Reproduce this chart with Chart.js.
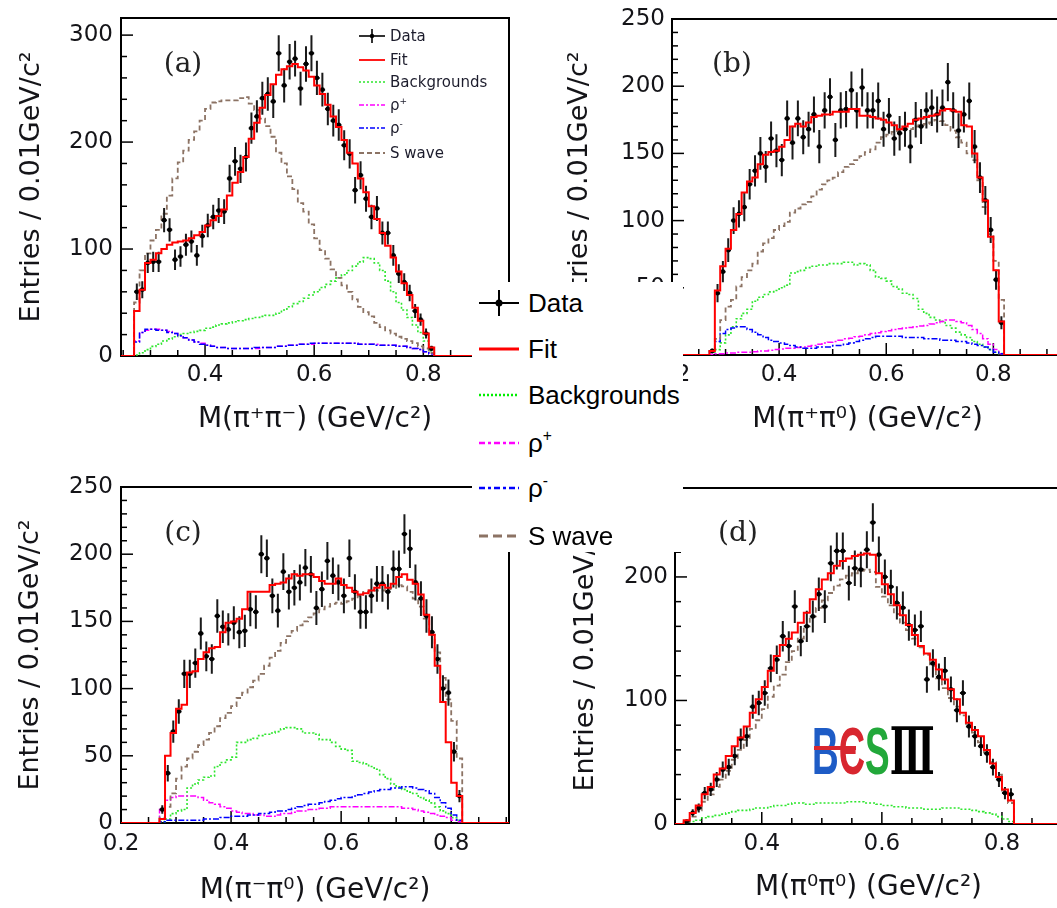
<!DOCTYPE html>
<html><head><meta charset="utf-8"><title>Invariant mass projections</title>
<script src="https://cdn.jsdelivr.net/npm/chart.js@4.4.1/dist/chart.umd.min.js"></script>
<style>
html,body{margin:0;padding:0;background:#fff;}
body{width:1057px;height:908px;overflow:hidden;position:relative;}
canvas{position:absolute;z-index:1;}
.plab{position:absolute;z-index:3;font-family:"DejaVu Serif",serif;font-size:28px;color:#222;transform:translate(-50%,-50%);line-height:1;}
#bigLegend{position:absolute;left:472px;top:282px;width:211px;height:270px;background:#fff;z-index:6;}
.lrow{position:absolute;left:0;width:211px;height:40px;}
.lrow svg{position:absolute;left:7px;top:5px;}
.lrow span{position:absolute;left:56px;top:0;line-height:40px;font-family:"Liberation Sans",Arial,sans-serif;font-size:26px;color:#000;white-space:nowrap;}
.lrow sup,.srow sup{font-size:60%;vertical-align:0.7em;line-height:0;}
.srow{position:absolute;left:357px;width:160px;height:20px;z-index:3;}
.srow svg{position:absolute;left:0;top:0;}
.srow span{position:absolute;left:33px;top:0;line-height:20px;font-family:"DejaVu Sans",sans-serif;font-size:15px;color:#1c1c2c;white-space:nowrap;}
#logo{position:absolute;left:812px;top:718px;height:66px;z-index:3;transform:scaleX(0.56);transform-origin:0 0;white-space:nowrap;font-family:"Liberation Sans",sans-serif;font-weight:bold;font-size:66px;line-height:66px;}
</style></head>
<body>
<canvas id="cA" width="520" height="452" style="left:0;top:0"></canvas>
<canvas id="cB" width="520" height="452" style="left:552px;top:0"></canvas>
<canvas id="cC" width="520" height="448" style="left:0;top:460px"></canvas>
<canvas id="cD" width="520" height="448" style="left:555px;top:460px"></canvas>

<div class="plab" style="left:183px;top:63px">(a)</div>
<div class="plab" style="left:732px;top:63px">(b)</div>
<div class="plab" style="left:183px;top:532px">(c)</div>
<div class="plab" style="left:738px;top:532px">(d)</div>

<!-- small legend of panel (a) -->
<div class="srow" style="top:26px"><svg width="30" height="20"><line x1="2" y1="10" x2="28" y2="10" stroke="#000" stroke-width="1.6"/><line x1="15" y1="3" x2="15" y2="17" stroke="#000" stroke-width="1.6"/><circle cx="15" cy="10" r="2.2" fill="#000"/></svg><span>Data</span></div>
<div class="srow" style="top:50px"><svg width="30" height="20"><line x1="2" y1="10" x2="28" y2="10" stroke="#ff0000" stroke-width="1.8"/></svg><span>Fit</span></div>
<div class="srow" style="top:72px"><svg width="30" height="20"><line x1="2" y1="10" x2="28" y2="10" stroke="#2ee62e" stroke-width="1.6" stroke-dasharray="2,2"/></svg><span>Backgrounds</span></div>
<div class="srow" style="top:95px"><svg width="30" height="20"><line x1="2" y1="10" x2="28" y2="10" stroke="#ff00ff" stroke-width="1.6" stroke-dasharray="5,2,2,2"/></svg><span>ρ<sup>+</sup></span></div>
<div class="srow" style="top:118px"><svg width="30" height="20"><line x1="2" y1="10" x2="28" y2="10" stroke="#0000ff" stroke-width="1.6" stroke-dasharray="5,2,2,2"/></svg><span>ρ<sup>-</sup></span></div>
<div class="srow" style="top:143px"><svg width="30" height="20"><line x1="2" y1="10" x2="28" y2="10" stroke="#8c7364" stroke-width="1.8" stroke-dasharray="5,3"/></svg><span>S wave</span></div>

<!-- big legend -->
<div id="bigLegend">
 <div class="lrow" style="top:1px"><svg width="44" height="30"><line x1="0" y1="15" x2="40" y2="15" stroke="#000" stroke-width="2"/><line x1="20" y1="2" x2="20" y2="28" stroke="#000" stroke-width="2"/><circle cx="20" cy="15" r="3.5" fill="#000"/></svg><span>Data</span></div>
 <div class="lrow" style="top:47px"><svg width="44" height="30"><line x1="0" y1="15" x2="40" y2="15" stroke="#ff0000" stroke-width="3"/></svg><span>Fit</span></div>
 <div class="lrow" style="top:93px"><svg width="44" height="30"><line x1="0" y1="15" x2="40" y2="15" stroke="#00ee00" stroke-width="2.5" stroke-dasharray="2,2"/></svg><span>Backgrounds</span></div>
 <div class="lrow" style="top:141px"><svg width="44" height="30"><line x1="0" y1="15" x2="40" y2="15" stroke="#ff00ff" stroke-width="2.5" stroke-dasharray="6,3,3,3"/></svg><span>ρ<sup>+</sup></span></div>
 <div class="lrow" style="top:186px"><svg width="44" height="30"><line x1="0" y1="15" x2="40" y2="15" stroke="#0000ff" stroke-width="2.5" stroke-dasharray="6,3,3,3"/></svg><span>ρ<sup>-</sup></span></div>
 <div class="lrow" style="top:234px"><svg width="44" height="30"><line x1="0" y1="15" x2="40" y2="15" stroke="#8c7364" stroke-width="3" stroke-dasharray="9,5"/></svg><span>S wave</span></div>
</div>

<div id="logo"><span style="color:#1e5cc6">B</span><span style="color:#d8262f">Є</span><span style="color:#22a83a">S</span><span style="color:#000;font-family:'DejaVu Serif',serif">Ⅲ</span></div>
<div style="position:absolute;left:814px;top:746px;width:42px;height:4px;background:#d8262f;z-index:4"></div>

<script>
// ---------------- data ----------------
const BIN_CENTERS = [0.275,0.285,0.295,0.305,0.315,0.325,0.335,0.345,0.355,0.365,0.375,0.385,0.395,0.405,0.415,0.425,0.435,0.445,0.455,0.465,0.475,0.485,0.495,0.505,0.515,0.525,0.535,0.545,0.555,0.565,0.575,0.585,0.595,0.605,0.615,0.625,0.635,0.645,0.655,0.665,0.675,0.685,0.695,0.705,0.715,0.725,0.735,0.745,0.755,0.765,0.775,0.785,0.795,0.805,0.815];

// (a) M(pi+ pi-)
const A_DATA  = [60,62,87,88,88,127,118,90,93,104,107,94,112,122,130,136,135,166,182,175,186,213,224,241,245,238,283,253,275,278,250,273,283,260,249,231,220,216,197,189,155,169,147,130,138,115,115,94,77,69,59,42,34,21,7];
const A_ERR   = [7.7,7.9,9.3,9.4,9.4,11.3,10.9,9.5,9.6,10.2,10.3,9.7,10.6,11,11.4,11.7,11.6,12.9,13.5,13.2,13.6,14.6,15,15.5,15.7,15.4,16.8,15.9,16.6,16.7,15.8,16.5,16.8,16.1,15.8,15.2,14.8,14.7,14,13.7,12.4,13,12.1,11.4,11.7,10.7,10.7,9.7,8.8,8.3,7.7,6.5,5.8,4.6,2.6];
const A_FIT   = [42,62,87,90,96,100,104,106,107,108,110,113,116,122,127,131,137,150,162,172,186,203,218,232,244,254,263,268,271,273,270,267,261,253,245,235,224,214,202,190,180,166,153,140,128,115,103,92,79,68,57,45,33,21,8];
const A_BKG   = [1,3,6,9,11,14,16,18,20,21,22,23,24,26,27,29,30,31,32,33,34,35,36,37,38,38,40,43,46,49,51,54,57,60,64,67,70,73,76,80,84,88,92,91,87,80,70,60,50,43,36,29,22,14,5];
const A_RHOP  = [14,22,24,25,25,24,23,21,19,17,15,13,12,10,9,8,8,7,7,7,7,7,7,8,8,8,9,9,10,10,11,11,11,12,12,12,12,12,12,12,12,11,11,11,11,10,10,10,9,9,8,7,6,4,2];
const A_RHOM  = [13,22,25,25,24,24,22,21,19,17,15,13,11,10,9,8,8,7,7,7,7,7,8,8,8,8,9,9,10,10,11,11,12,12,12,12,12,12,12,12,12,11,11,11,10,10,10,10,9,9,8,7,6,4,2];
const A_SWAVE = [50,80,96,108,118,133,150,166,181,192,202,210,220,231,237,238,239,239,239,241,242,236,230,222,215,205,190,180,168,156,143,135,123,110,99,91,81,73,66,60,53,46,41,37,31,27,24,21,18,16,14,12,9,7,3];

// (b) M(pi+ pi0)
const B_DATA  = [3,46,62,78,100,105,110,127,137,150,140,161,152,145,176,158,176,162,168,179,155,182,192,160,182,183,197,182,199,182,182,189,168,178,161,165,168,155,175,170,182,184,179,184,203,182,167,179,189,155,132,115,93,56,24];
const B_ERR   = [1.7,6.8,7.9,8.8,10,10.2,10.5,11.3,11.7,12.2,11.8,12.7,12.3,12,13.3,12.6,13.3,12.7,13,13.4,12.4,13.5,13.9,12.6,13.5,13.5,14,13.5,14.1,13.5,13.5,13.7,13,13.3,12.7,12.8,13,12.4,13.2,13,13.5,13.6,13.4,13.6,14.2,13.5,12.9,13.4,13.7,12.4,11.5,10.7,9.6,7.5,4.9];
const B_FIT   = [3,48,66,79,93,105,121,129,132,142,149,151,152,155,160,170,172,170,173,177,178,179,179,181,181,181,183,183,178,178,177,176,175,173,171,168,170,172,175,176,177,178,179,182,183,182,181,171,170,150,132,115,88,63,25];
const B_BKG   = [2,4,9,15,21,27,31,34,40,43,45,47,48,50,52,61,62,63,65,66,67,67,68,68,68,69,69,67,68,67,63,58,57,55,51,49,46,45,42,34,31,28,26,25,22,20,17,15,13,10,8,6,4,2,1];
const B_RHOP  = [0.5,1,1,1.5,1.5,2,2,2,2.5,3,3,3.5,4,4.5,5,5,5.5,6,6.5,7,8,9,9.5,10,11,12,12.5,13.5,14,15,16,16.5,17.5,18,19,19.5,20,20.5,21,21.5,22,23,24,25,26,26,25,24,22,19,16,12,8,4,1];
const B_RHOM  = [3,10,16,19,20,21,21,19,17,15,13,11,10,9,8,7,6,5,5,5,6,6,6,7,7,8,9,10,11,12,13,14,14,14,14,14,13,13,13,13,12,12,12,11,11,11,10,10,9,8,7,6,4,2,1];
const B_SWAVE = [3,12,26,36,41,51,58,63,68,77,83,87,93,96,99,106,109,112,114,118,123,127,130,132,136,140,142,145,148,151,153,158,162,164,166,167,168,168,170,171,172,173,175,174,171,167,162,158,150,145,130,110,90,70,41];

// (c) M(pi- pi0)
const C_DATA  = [10,37,68,83,111,111,119,141,124,122,154,146,144,149,142,143,159,157,200,197,169,158,187,172,175,179,190,185,160,174,195,184,179,169,197,172,157,157,169,178,178,172,189,189,215,204,179,167,154,142,122,100,97,53,20];
const C_ERR   = [3.2,6.1,8.2,9.1,10.5,10.5,10.9,11.9,11.1,11,12.4,12.1,12,12.2,11.9,12,12.6,12.5,14.1,14,13,12.6,13.7,13.1,13.2,13.4,13.8,13.6,12.6,13.2,14,13.6,13.4,13,14,13.1,12.5,12.5,13,13.3,13.3,13.1,13.7,13.7,14.7,14.3,13.4,12.9,12.4,11.9,11,10,9.8,7.3,4.5];
const C_FIT   = [3,50,67,85,88,112,113,122,127,130,131,142,149,150,152,159,172,172,172,172,177,178,179,182,185,184,185,185,183,180,178,178,182,177,175,172,170,171,173,175,177,175,178,183,185,181,178,170,155,140,117,90,60,30,20];
const C_BKG   = [1,3,7,9,10,26,29,32,34,35,42,45,47,49,60,60,62,63,65,66,67,68,70,71,71,70,67,67,66,62,62,60,57,55,54,46,45,44,42,40,36,33,29,27,25,23,22,19,17,15,12,9,7,4,2];
const C_RHOP  = [10,17,19,20,20,20,20,19,17,15,14,12,11,9,8,7,7,6,6,5,5,6,7,7,8,9,9,10,10,11,11,12,12,12,12,12,12,12,12,12,12,12,12,12,11,11,10,9,8,7,6,5,4,2,1];
const C_RHOM  = [1,2,2,2,2,2,2,2,3,3,3,4,4,5,5,5,6,6,7,7,8,9,9,10,11,12,13,14,14,15,16,17,18,19,19,20,21,22,23,24,25,25,26,26,27,27,26,25,24,22,19,15,11,6,2];
const C_SWAVE = [4,12,22,33,42,48,53,58,62,67,72,78,82,87,93,97,101,106,111,117,123,128,134,139,143,147,150,153,156,159,161,163,164,163,165,167,169,172,173,173,173,174,175,177,176,172,167,161,152,140,127,108,92,76,48];

// (d) M(pi0 pi0)
const D_DATA  = [2,9,13,25,28,36,44,46,55,69,71,95,98,106,126,133,152,144,176,148,160,168,186,176,211,221,221,195,207,206,222,244,218,200,192,179,175,161,157,160,117,130,119,124,109,92,106,79,71,63,57,46,36,25,24];
const D_ERR   = [1.4,3,3.6,5,5.3,6,6.6,6.8,7.4,8.3,8.4,9.7,9.9,10.3,11.2,11.5,12.3,12,13.3,12.2,12.6,13,13.6,13.3,14.5,14.9,14.9,14,14.4,14.4,14.9,15.6,14.8,14.1,13.9,13.4,13.2,12.7,12.5,12.6,10.8,11.4,10.9,11.1,10.4,9.6,10.3,8.9,8.4,7.9,7.5,6.8,6,5,4.9];
const D_FIT   = [3,9,15,24,30,40,45,55,63,70,79,90,101,111,124,136,145,150,155,163,171,182,190,198,203,209,213,215,217,218,219,218,203,194,186,177,169,161,153,144,138,133,125,117,109,101,90,82,76,71,60,49,38,28,19];
const D_BKG   = [1,2,3,5,6,7,8,9,10,11,11,12,13,13,14,15,15,16,17,17,16,16,17,17,17,17,17,18,18,18,17,17,16,15,15,14,14,13,13,13,12,12,12,13,13,13,12,12,11,10,9,8,6,4,2];
const D_SWAVE = [2,6,11,18,24,30,36,43,52,60,68,77,84,93,103,112,121,131,140,150,160,168,175,181,187,193,198,201,203,205,206,204,192,184,177,170,163,157,150,143,137,128,118,110,102,95,88,81,74,66,58,50,40,27,17];

// axis labels
const A_XTICKS = [0.4,0.6,0.8], A_YTICKS = [0,100,200,300];
const B_XTICKS = [0.2,0.4,0.6,0.8], B_YTICKS = [0,50,100,150,200,250];
const C_XTICKS = [0.2,0.4,0.6,0.8], C_YTICKS = [0,50,100,150,200,250];
const D_XTICKS = [0.4,0.6,0.8], D_YTICKS = [0,100,200];
const Y_TITLE = 'Entries / 0.01GeV/c²';
const X_TITLES = ['M(π⁺π⁻) (GeV/c²)','M(π⁺π⁰) (GeV/c²)','M(π⁻π⁰) (GeV/c²)','M(π⁰π⁰) (GeV/c²)'];

// ---------------- drawing ----------------
const SANS = '"DejaVu Sans", sans-serif';
const TXT = '#141418';
const BIN_W = 0.01;

function histPoints(vals, xmin, xmax) {
  const pts = [{x: xmin, y: 0}, {x: BIN_CENTERS[0] - BIN_W, y: 0}];
  vals.forEach((v, i) => pts.push({x: BIN_CENTERS[i], y: v}));
  pts.push({x: BIN_CENTERS[BIN_CENTERS.length - 1] + BIN_W, y: 0}, {x: xmax, y: 0});
  return pts;
}
function histDS(label, vals, color, width, dash, order, xmin, xmax) {
  return {label, data: histPoints(vals, xmin, xmax), borderColor: color, borderWidth: width,
    borderDash: dash, stepped: 'middle', pointRadius: 0, fill: false, order};
}
function dataDS(vals, errs) {
  return {label: 'Data', data: vals.map((v, i) => ({x: BIN_CENTERS[i], y: v})), errors: errs,
    showLine: false, pointRadius: 2.4, pointBackgroundColor: '#000', pointBorderColor: '#000',
    pointBorderWidth: 0, order: 1};
}

const frameTicks = {
  id: 'frameTicks',
  beforeDatasetsDraw(chart, args, o) {
    const {ctx, chartArea: a, scales: {x, y}} = chart;
    ctx.save();
    ctx.strokeStyle = '#000';
    ctx.lineWidth = 2;
    ctx.strokeRect(a.left, a.top, a.right - a.left, a.bottom - a.top);
    ctx.lineWidth = 1.5;
    const isMul = (v, m) => Math.abs(Math.round(v / m) * m - v) < 1e-6;
    for (let k = 0; k * o.yMinor <= y.max + 1e-9; k++) {
      const v = k * o.yMinor, p = y.getPixelForValue(v);
      const len = isMul(v, o.yMajor) ? 12 : 6;
      ctx.beginPath(); ctx.moveTo(a.left, p); ctx.lineTo(a.left + len, p); ctx.stroke();
    }
    for (let k = Math.ceil(x.min / o.xMinor - 1e-6); k * o.xMinor <= x.max + 1e-9; k++) {
      const v = k * o.xMinor, p = x.getPixelForValue(v);
      const len = isMul(v, o.xMajor) ? 12 : 6;
      ctx.beginPath(); ctx.moveTo(p, a.bottom); ctx.lineTo(p, a.bottom - len); ctx.stroke();
    }
    ctx.restore();
  }
};

const errorBars = {
  id: 'errorBars',
  beforeDatasetDraw(chart, args) {
    const ds = chart.data.datasets[args.index];
    if (!ds.errors) return;
    const {ctx, chartArea: a, scales: {x, y}} = chart;
    ctx.save();
    ctx.beginPath(); ctx.rect(a.left, a.top, a.right - a.left, a.bottom - a.top); ctx.clip();
    ctx.strokeStyle = '#1a1a1a';
    ctx.lineWidth = 2;
    ds.data.forEach((pt, i) => {
      const e = ds.errors[i];
      const px = x.getPixelForValue(pt.x), py = y.getPixelForValue(pt.y);
      ctx.beginPath();
      ctx.moveTo(px, y.getPixelForValue(pt.y - e)); ctx.lineTo(px, y.getPixelForValue(pt.y + e));
      ctx.moveTo(x.getPixelForValue(pt.x - BIN_W / 2), py); ctx.lineTo(x.getPixelForValue(pt.x + BIN_W / 2), py);
      ctx.stroke();
    });
    ctx.restore();
  }
};

function buildChart(id, P) {
  const xmin = P.xMin, xmax = P.xMax;
  const ds = [
    histDS('Fit', P.fit, '#ff0000', 2, [], 0, xmin, xmax),
    dataDS(P.data, P.err),
    histDS('S wave', P.swave, '#8c7364', 1.8, [5, 3], 2, xmin, xmax)
  ];
  if (P.rhom) ds.push(histDS('ρ⁻', P.rhom, '#0000ff', 1.5, [6, 2, 2, 2], 3, xmin, xmax));
  if (P.rhop) ds.push(histDS('ρ⁺', P.rhop, '#ff00ff', 1.5, [6, 2, 2, 2], 4, xmin, xmax));
  ds.push(histDS('Backgrounds', P.bkg, '#2ee62e', 1.6, [2, 2], 5, xmin, xmax));

  return new Chart(document.getElementById(id), {
    type: 'line',
    data: {datasets: ds},
    options: {
      responsive: false, animation: false, events: [],
      layout: {autoPadding: false, padding: {left: 0, top: P.padTop, right: P.padRight, bottom: 0}},
      plugins: {legend: {display: false}, tooltip: {enabled: false},
        frameTicks: {xMinor: 0.05, xMajor: 0.2, yMinor: P.yMinor, yMajor: P.yMajor}},
      scales: {
        x: {type: 'linear', min: xmin, max: xmax,
          grid: {display: false, drawTicks: false}, border: {display: false},
          afterBuildTicks: s => { s.ticks = P.xTicks.map(v => ({value: v})); },
          afterFit: s => { s.height = P.xAxisH; s.paddingLeft = 0; s.paddingRight = 0; },
          ticks: {autoSkip: false, maxRotation: 0, minRotation: 0, padding: P.xTickPad, color: TXT,
            font: {family: SANS, size: 23}, callback: v => Number(v).toFixed(1)},
          title: {display: true, text: P.xTitle, color: TXT,
            font: {family: SANS, size: 28, lineHeight: 1.2}, padding: {top: 0, bottom: P.xTitlePad}}},
        y: {type: 'linear', min: 0, max: P.yMax,
          grid: {display: false, drawTicks: false}, border: {display: false},
          afterBuildTicks: s => { s.ticks = P.yTicks.map(v => ({value: v})); },
          afterFit: s => { s.width = P.yAxisW; s.paddingTop = 0; s.paddingBottom = 0; },
          ticks: {padding: P.yTickPad, color: TXT, font: {family: SANS, size: 23}, callback: v => String(v)},
          title: {display: true, text: Y_TITLE, color: TXT,
            font: {family: SANS, size: 27, lineHeight: 1.2}, padding: {top: P.yTitlePad, bottom: 0}}}
      }
    },
    plugins: [frameTicks, errorBars]
  });
}

buildChart('cA', {data: A_DATA, err: A_ERR, fit: A_FIT, bkg: A_BKG, rhop: A_RHOP, rhom: A_RHOM, swave: A_SWAVE,
  xMin: 0.246, xMax: 0.957, yMax: 316, xTicks: A_XTICKS, yTicks: A_YTICKS, yMinor: 20, yMajor: 100,
  xTitle: X_TITLES[0], padTop: 18, padRight: 11, yAxisW: 121, xAxisH: 96,
  xTickPad: 5, yTickPad: 8, xTitlePad: 15, yTitlePad: 16});
buildChart('cB', {data: B_DATA, err: B_ERR, fit: B_FIT, bkg: B_BKG, rhop: B_RHOP, rhom: B_RHOM, swave: B_SWAVE,
  xMin: 0.2, xMax: 0.93, yMax: 250, xTicks: B_XTICKS, yTicks: B_YTICKS, yMinor: 10, yMajor: 50,
  xTitle: X_TITLES[1], padTop: 19, padRight: 9, yAxisW: 120, xAxisH: 97,
  xTickPad: 6, yTickPad: 7, xTitlePad: 15, yTitlePad: 12});
buildChart('cC', {data: C_DATA, err: C_ERR, fit: C_FIT, bkg: C_BKG, rhop: C_RHOP, rhom: C_RHOM, swave: C_SWAVE,
  xMin: 0.2, xMax: 0.905, yMax: 250, xTicks: C_XTICKS, yTicks: C_YTICKS, yMinor: 10, yMajor: 50,
  xTitle: X_TITLES[2], padTop: 27, padRight: 11, yAxisW: 121, xAxisH: 85,
  xTickPad: 7, yTickPad: 8, xTitlePad: 0, yTitlePad: 15});
buildChart('cD', {data: D_DATA, err: D_ERR, fit: D_FIT, bkg: D_BKG, swave: D_SWAVE,
  xMin: 0.2555, xMax: 0.9, yMax: 272, xTicks: D_XTICKS, yTicks: D_YTICKS, yMinor: 20, yMajor: 100,
  xTitle: X_TITLES[3], padTop: 28, padRight: 13, yAxisW: 120, xAxisH: 84,
  xTickPad: 6, yTickPad: 7, xTitlePad: 3, yTitlePad: 15});
</script>
</body></html>
